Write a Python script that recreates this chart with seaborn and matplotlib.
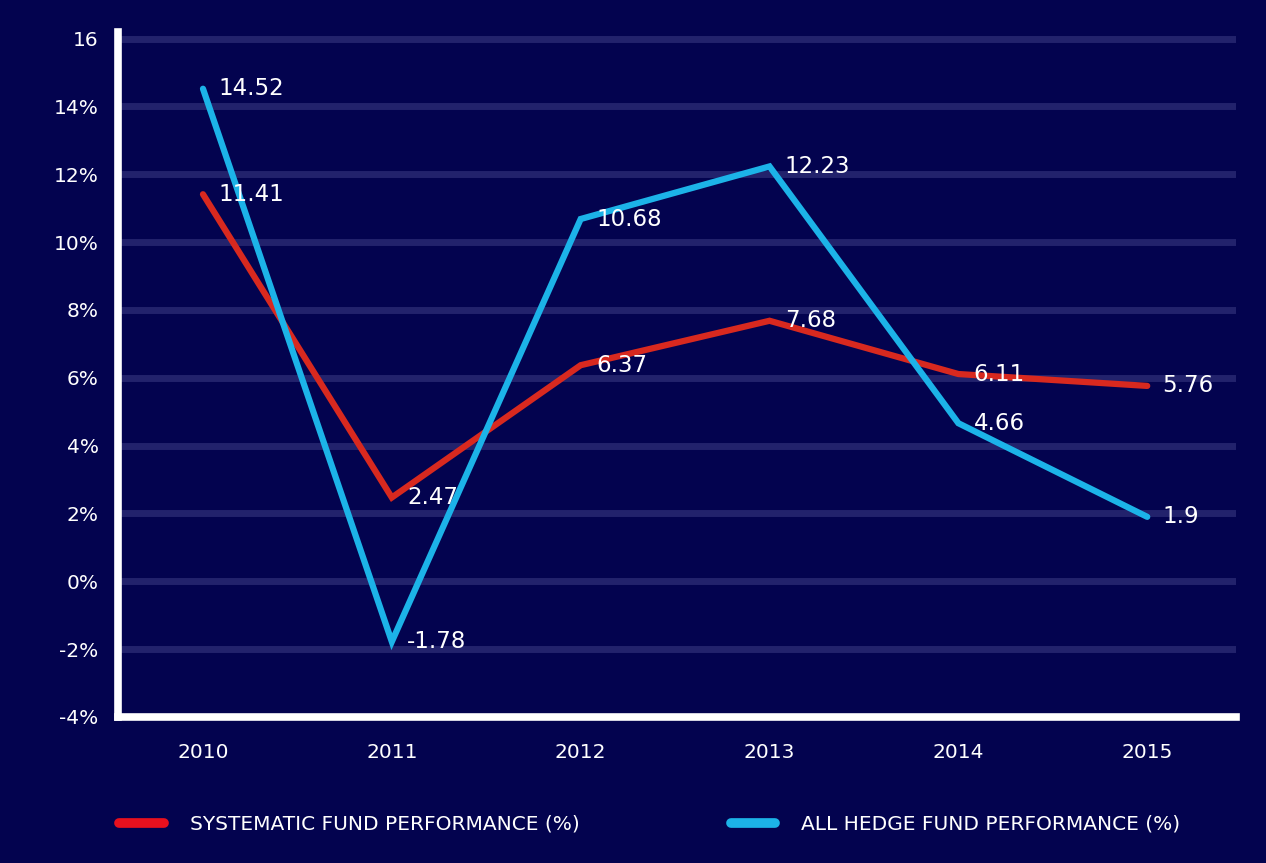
import pandas as pd
import seaborn as sns
import matplotlib.pyplot as plt

# Chart data
years = ['2010', '2011', '2012', '2013', '2014', '2015']
systematic = [11.41, 2.47, 6.37, 7.68, 6.11, 5.76]
all_hedge = [14.52, -1.78, 10.68, 12.23, 4.66, 1.9]
series_names = ['SYSTEMATIC FUND PERFORMANCE (%)', 'ALL HEDGE FUND PERFORMANCE (%)']
y_ticks = [-4, -2, 0, 2, 4, 6, 8, 10, 12, 14, 16]
y_tick_labels = ['-4%', '-2%', '0%', '2%', '4%', '6%', '8%', '10%', '12%', '14%', '16']

bg = '#03034f'
grid_color = '#22226c'
red = '#d8291f'
blue = '#1cb3e8'

sns.set_style('dark')
plt.rcParams['font.family'] = ['DejaVu Sans']

data = pd.DataFrame({
    'year': list(range(len(years))) * 2,
    'value': systematic + all_hedge,
    'series': [series_names[0]] * len(years) + [series_names[1]] * len(years),
})

fig = plt.figure(figsize=(12.66, 8.63), dpi=100, facecolor=bg)
ax = fig.add_axes([0.0932, 0.1692, 0.8831, 0.7940])
ax.set_facecolor(bg)

sns.lineplot(data=data, x='year', y='value', hue='series', palette=[red, blue],
             linewidth=4.5, ax=ax, legend=False, zorder=3,
             solid_capstyle='round', solid_joinstyle='miter')

# value labels
for vals in (systematic, all_hedge):
    for i, v in enumerate(vals):
        ax.annotate(f'{v:g}', (i, v), xytext=(11, 0), textcoords='offset points',
                    ha='left', va='center', color='white', fontsize=16.5, zorder=4)

ax.set_xlim(-0.45, 5.47)
ax.set_ylim(-4, 16.2)
ax.set_xticks(range(len(years)))
ax.set_xticklabels(years)
ax.set_yticks(y_ticks)
ax.set_yticklabels(y_tick_labels)
ax.tick_params(axis='both', length=0, colors='white', labelsize=14.5)
ax.tick_params(axis='y', pad=14)
ax.tick_params(axis='x', pad=19)
ax.set_xlabel('')
ax.set_ylabel('')

ax.grid(False)
for y in y_ticks[1:]:
    ax.axhline(y, color=grid_color, linewidth=5, zorder=1)

for side in ('top', 'right'):
    ax.spines[side].set_visible(False)
for side in ('left', 'bottom'):
    ax.spines[side].set_visible(True)
    ax.spines[side].set_color('white')
    ax.spines[side].set_linewidth(5.5)
    ax.spines[side].set_zorder(5)

# legend below the plot
handles = [plt.Line2D([], [], color='#e8101e', linewidth=7, solid_capstyle='round'),
           plt.Line2D([], [], color=blue, linewidth=7, solid_capstyle='round')]
leg = fig.legend(handles, series_names, loc='center left', bbox_to_anchor=(0.080, 0.045),
                 ncol=2, frameon=False, handlelength=2.2, handletextpad=1.3,
                 columnspacing=7.5, fontsize=14.5)
for t in leg.get_texts():
    t.set_color('white')

fig.savefig('out.png', dpi=100, facecolor=bg)
